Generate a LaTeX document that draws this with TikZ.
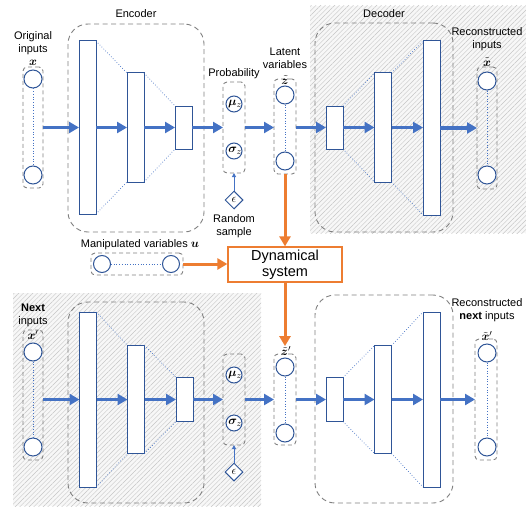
\documentclass[tikz,border=0pt]{standalone}
\usepackage{fontspec}
\setmainfont{Liberation Sans}
\usepackage{bm}
\usetikzlibrary{arrows.meta,shapes.geometric,patterns.meta,calc}
\definecolor{lblue}{HTML}{2F5597}
\definecolor{ablue}{HTML}{4472C4}
\definecolor{dorange}{HTML}{ED7D31}
\begin{document}
\begin{tikzpicture}[x=1pt,y=-1pt,
  lbl/.style={font=\fontsize{11}{13}\selectfont, align=center, inner sep=0pt},
  mlbl/.style={font=\fontsize{12.5}{14}\selectfont, inner sep=0pt},
  slbl/.style={font=\fontsize{12.5}{14}\selectfont, inner sep=0pt},
  layer/.style={draw=lblue, fill=white, line width=1pt, inner sep=0pt, outer sep=0pt},
  neuron/.style={circle, draw=lblue, fill=white, line width=1pt, minimum size=18pt, inner sep=0pt},
  nbox/.style={draw=gray, dashed, dash pattern=on 4pt off 3pt, line width=0.9pt, rounded corners=4pt, inner sep=0pt, outer sep=0pt},
  bigbox/.style={draw=gray, dash pattern=on 5pt off 3.5pt, line width=0.9pt, rounded corners=20pt, inner sep=0pt, outer sep=0pt},
  thinlink/.style={draw=ablue, dotted, line width=0.7pt},
  flow/.style={draw=ablue, line width=3.2pt, -{Triangle[length=10pt,width=11pt]}},
  oarrow/.style={draw=dorange, line width=3pt, -{Triangle[length=10pt,width=11pt]}},
  earrow/.style={draw=ablue, line width=1pt, -{Triangle[length=4pt,width=4pt]}},
  epsnode/.style={diamond, draw=lblue, fill=white, line width=1pt, minimum size=18pt, inner sep=0pt, font=\fontsize{13}{14}\selectfont},
  hatch/.style={pattern={Lines[angle=45,distance=3.3pt,line width=0.45pt]}, pattern color=gray!45},
]
\useasboundingbox (0,0) rectangle (526,508);

% hatched backgrounds
\fill[gray!6] (310,6) rectangle (526,233);
\fill[hatch] (310,6) rectangle (526,233);
\fill[gray!6] (13,293) rectangle (261,506);
\fill[hatch] (13,293) rectangle (261,506);

% ================= TOP ROW =================
% input
\node[lbl] (tin) at (33,43) {Original\\inputs};
\node[mlbl] (xl) at (33,63) {$\bm{x}$};
\node[nbox, minimum width=20pt, minimum height=121pt] (inbox) at (33,127.5) {};
\node[neuron] (i1) at (33,79) {};
\node[neuron] (i2) at (33,175) {};
\draw[thinlink] (i1) -- (i2);

% encoder
\node[lbl] (encl) at (136,14) {Encoder};
\node[bigbox, minimum width=136pt, minimum height=208pt] (enc) at (136,128) {};
\node[layer, minimum width=17pt, minimum height=173pt] (L1) at (87.5,127.5) {};
\node[layer, minimum width=17pt, minimum height=109pt] (L2) at (135.5,127.5) {};
\node[layer, minimum width=17pt, minimum height=43pt] (L3) at (183.5,127.5) {};
\draw[thinlink] (L1.north east) -- (L2.north west);
\draw[thinlink] (L1.south east) -- (L2.south west);
\draw[thinlink] (L2.north east) -- (L3.north west);
\draw[thinlink] (L2.south east) -- (L3.south west);

% probability
\node[lbl] (probl) at (234,74) {Probability};
\node[nbox, minimum width=22pt, minimum height=91pt] (prob) at (234,127.5) {};
\node[neuron, minimum size=16pt] (mu) at (234,104) {};
\node[slbl] at (235,104) {$\bm{\mu}_{z}$};
\node[neuron, minimum size=16pt] (sg) at (234,151) {};
\node[slbl] at (235,151) {$\bm{\sigma}_{z}$};
\node[epsnode] (eps) at (234,200) {$\epsilon$};
\draw[earrow] (eps) -- (prob.south);
\node[lbl] (rnd) at (234,226.5) {Random\\sample};

% latent
\node[lbl] (latl) at (285,58) {Latent\\variables};
\node[nbox, minimum width=22pt, minimum height=95pt] (lat) at (285,126.5) {};
\node[mlbl] (zl) at (285,80) {$\tilde{\bm{z}}$};
\node[neuron] (z1) at (285,95) {};
\node[neuron] (z2) at (285,161) {};
\draw[thinlink] (z1) -- (z2);

% decoder
\node[lbl] (decl) at (384,14) {Decoder};
\node[bigbox, minimum width=138pt, minimum height=209pt] (dec) at (384,127.5) {};
\node[layer, minimum width=17pt, minimum height=43pt] (D1) at (334.5,127.5) {};
\node[layer, minimum width=17pt, minimum height=109pt] (D2) at (383,127.5) {};
\node[layer, minimum width=17pt, minimum height=174pt] (D3) at (431.5,128) {};
\draw[thinlink] (D1.north east) -- (D2.north west);
\draw[thinlink] (D1.south east) -- (D2.south west);
\draw[thinlink] (D2.north east) -- (D3.north west);
\draw[thinlink] (D2.south east) -- (D3.south west);

% reconstructed
\node[lbl] (recl) at (487,39) {Reconstructed\\inputs};
\node[mlbl] (xtl) at (487,62) {$\tilde{\bm{x}}$};
\node[nbox, minimum width=20pt, minimum height=122pt] (rbox) at (487,128) {};
\node[neuron] (r1) at (487,81) {};
\node[neuron] (r2) at (487,175) {};
\draw[thinlink] (r1) -- (r2);

% flow arrows
\draw[flow] (inbox.east) -- (L1.west);
\draw[flow] (L1.east) -- (L2.west);
\draw[flow] (L2.east) -- (L3.west);
\draw[flow] (L3.east) -- (prob.west);
\draw[flow] (prob.east) -- (prob.east -| lat.west);
\draw[flow] (lat.east |- D1.west) -- (D1.west);
\draw[flow] (D1.east) -- (D2.west);
\draw[flow] (D2.east) -- (D2.east -| D3.west);
\draw[flow] (D3.east |- rbox.west) -- (rbox.west);

% ================= MIDDLE =================
\node[lbl] (ul) at (140,245) {Manipulated variables {\fontsize{13}{14}\selectfont$\bm{u}$}};
\node[nbox, minimum width=92pt, minimum height=22pt] (ubox) at (137,264) {};
\node[neuron, minimum size=17pt] (u1) at (102,264) {};
\node[neuron, minimum size=17pt] (u2) at (171,264) {};
\draw[thinlink] (u1) -- (u2);
\node[draw=dorange, fill=white, line width=1.2pt, minimum width=114pt, minimum height=35pt, inner sep=0pt, align=center, font=\fontsize{14.5}{16}\selectfont] (dyn) at (285,264.5) {Dynamical\\system};
\draw[oarrow] (lat.south) -- (dyn.north);
\draw[oarrow] (ubox.east) -- (ubox.east -| dyn.west);

% ================= BOTTOM ROW =================
\node[lbl] (nin) at (33,315.5) {\textbf{Next}\\inputs};
\node[mlbl] (xpl) at (33,335) {$\bm{x}'$};
\node[nbox, minimum width=20pt, minimum height=130pt] (inbox2) at (33,395) {};
\node[neuron] (j1) at (33,352) {};
\node[neuron] (j2) at (33,447) {};
\draw[thinlink] (j1) -- (j2);

\node[bigbox, minimum width=136pt, minimum height=201pt] (enc2) at (136,402.5) {};
\node[layer, minimum width=17pt, minimum height=175pt] (M1) at (88,399.5) {};
\node[layer, minimum width=17pt, minimum height=108pt] (M2) at (136,399.5) {};
\node[layer, minimum width=17pt, minimum height=44pt] (M3) at (184.5,399.5) {};
\draw[thinlink] (M1.north east) -- (M2.north west);
\draw[thinlink] (M1.south east) -- (M2.south west);
\draw[thinlink] (M2.north east) -- (M3.north west);
\draw[thinlink] (M2.south east) -- (M3.south west);

\node[nbox, minimum width=22pt, minimum height=91pt] (prob2) at (234,399.5) {};
\node[neuron, minimum size=16pt] (mu2) at (234,375) {};
\node[slbl] at (235,375) {$\bm{\mu}_{z}$};
\node[neuron, minimum size=16pt] (sg2) at (234,423) {};
\node[slbl] at (235,423) {$\bm{\sigma}_{z}$};
\node[epsnode] (eps2) at (234,472) {$\epsilon$};
\draw[earrow] (eps2) -- (prob2.south);

\node[nbox, minimum width=22pt, minimum height=91pt] (lat2) at (285,399.5) {};
\node[mlbl] (zpl) at (286,351) {$\tilde{\bm{z}}'$};
\node[neuron] (y1) at (285,367) {};
\node[neuron] (y2) at (285,433) {};
\draw[thinlink] (y1) -- (y2);
\draw[oarrow] (dyn.south) -- (dyn.south |- zpl.north);

\node[bigbox, minimum width=138pt, minimum height=208pt] (dec2) at (384,399) {};
\node[layer, minimum width=17pt, minimum height=44pt] (E1) at (334.5,399.5) {};
\node[layer, minimum width=17pt, minimum height=108pt] (E2) at (383,399.5) {};
\node[layer, minimum width=17pt, minimum height=175pt] (E3) at (431.5,399.5) {};
\draw[thinlink] (E1.north east) -- (E2.north west);
\draw[thinlink] (E1.south east) -- (E2.south west);
\draw[thinlink] (E2.north east) -- (E3.north west);
\draw[thinlink] (E2.south east) -- (E3.south west);

\node[lbl] (recl2) at (487,310.5) {Reconstructed\\\textbf{next} inputs};
\node[mlbl] (xtpl) at (487,336) {$\tilde{\bm{x}}'$};
\node[nbox, minimum width=22pt, minimum height=121pt] (rbox2) at (486,399.5) {};
\node[neuron] (s1) at (487,353) {};
\node[neuron] (s2) at (487,447) {};
\draw[thinlink] (s1) -- (s2);

\draw[flow] (inbox2.east |- M1.west) -- (M1.west);
\draw[flow] (M1.east) -- (M2.west);
\draw[flow] (M2.east) -- (M3.west);
\draw[flow] (M3.east) -- (prob2.west);
\draw[flow] (prob2.east) -- (lat2.west);
\draw[flow] (lat2.east) -- (E1.west);
\draw[flow] (E1.east) -- (E2.west);
\draw[flow] (E2.east) -- (E3.west);
\draw[flow] (E3.east) -- (rbox2.west);
\end{tikzpicture}
\end{document}
